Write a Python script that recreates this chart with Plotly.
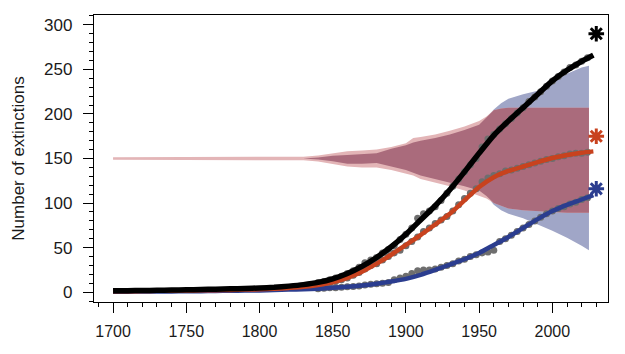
import numpy as np
import plotly.graph_objects as go

# ---- fitted curves ----
curve_years = [1700, 1710, 1720, 1730, 1740, 1750, 1760, 1770, 1780, 1790, 1800, 1810, 1820,
               1830, 1840, 1850, 1860, 1870, 1880, 1890, 1900, 1910, 1920, 1930, 1940, 1950,
               1960, 1970, 1980, 1990, 2000, 2010, 2020, 2028]
total_fit = [1.5, 1.7, 1.9, 2.1, 2.4, 2.7, 3.0, 3.4, 3.8, 4.2, 4.7, 5.5, 6.8,
             8.5, 11, 15, 21, 29, 39, 51, 65, 81, 97, 115, 135, 156,
             176, 192, 207, 222, 237, 249, 259, 266]
red_fit = [1.0, 1.1, 1.3, 1.5, 1.7, 1.9, 2.1, 2.3, 2.6, 2.9, 3.2, 3.8, 4.8,
           6, 8, 11, 16, 23, 32, 42, 53, 64, 76, 88, 103, 118,
           129, 136, 141, 146, 150.5, 154, 156.5, 158]
blue_fit = [0.5, 0.6, 0.7, 0.8, 0.9, 1.0, 1.2, 1.4, 1.6, 1.8, 2.0, 2.4, 2.9,
            3.4, 4, 5, 6, 7.5, 9.5, 12, 15, 19.5, 25, 31, 37, 44,
            53, 62, 72, 82, 91, 98, 104, 109]

# ---- observed points ----
obs_years = list(range(1840, 2025, 4))
total_obs = [11, 12, 14, 16, 18, 21, 24, 28, 33, 36, 39, 44, 48, 52, 59, 65, 72, 83, 88, 91,
             96, 103, 111, 119, 127, 135, 143, 150, 163, 172, 177, 183, 189, 195, 201, 207,
             214, 219, 225, 231, 237, 242, 247, 252, 255, 259, 263]
red_obs = [8, 9, 10, 12, 14, 16, 19, 22, 26, 30, 32, 36, 40, 44, 47, 52, 57, 62, 68, 72,
           77, 81, 85, 91, 98, 105, 111, 116, 124, 128, 131, 133, 136, 137, 139, 141,
           143, 145, 147, 149, 150, 152, 153, 155, 156, 156, 157]
blue_obs = [4, 4.5, 5, 5, 5.5, 6, 6.5, 7, 8, 9, 9.5, 10, 11, 14, 16, 18, 21, 24, 25, 25,
            26, 28, 30, 32, 35, 37, 40, 42, 44, 45, 47, 57, 60, 64, 68, 72,
            76, 80, 84, 88, 91, 94, 96, 99, 101, 104, 106]

# ---- uncertainty bands ----
band_years = [1700, 1830, 1840, 1850, 1860, 1870, 1880, 1890, 1900, 1905, 1910, 1920, 1930,
              1940, 1950, 1955, 1960, 1965, 1970, 1980, 1990, 2000, 2010, 2020, 2025]
red_lo = [148.5, 148, 146.5, 144, 141, 140, 140, 137, 133, 131, 127, 123, 119,
          114, 108, 105, 100, 97, 94, 92, 91, 90, 89, 89, 89]
red_hi = [151.5, 152, 153.5, 155.5, 158, 159, 160, 163, 167, 173, 174, 177, 181,
          186, 192, 197, 204, 206, 207, 207, 207, 207, 207, 207, 207]
blue_lo = [150, 150, 149, 147, 144, 144, 145, 141, 137, 134, 131, 127, 123,
           119, 114, 108, 98, 92, 88, 83, 76, 69, 61, 52, 47]
blue_hi = [150, 150, 151, 153, 154, 155, 156, 161, 165, 168, 170, 173, 177,
           182, 188, 196, 205, 212, 217, 222, 226, 235, 245, 252, 254]

# ---- end markers ----
marker_x = [2030, 2030, 2030]
marker_y = [290, 175, 116]

BLACK = "#000000"
RED = "#c8421e"
BLUE = "#2b3d8f"
GREY = "#6e6e6e"
PINK = "#e3b5b7"
MAUVE = "#aa6b7c"
BLUEGREY = "#a0a6c7"

fig = go.Figure()


def band(lo, hi, color):
    xs = list(band_years) + list(band_years)[::-1]
    ys = list(hi) + list(lo)[::-1]
    fig.add_trace(go.Scatter(x=xs, y=ys, fill="toself", fillcolor=color, mode="lines",
                             line=dict(width=0, color=color), hoverinfo="skip", showlegend=False))


band(blue_lo, blue_hi, BLUEGREY)
band(red_lo, red_hi, PINK)
inter_lo = np.maximum(red_lo, blue_lo)
inter_hi = np.minimum(red_hi, blue_hi)
band(inter_lo, inter_hi, MAUVE)

for ys in (blue_obs, red_obs, total_obs):
    fig.add_trace(go.Scatter(x=obs_years, y=ys, mode="markers",
                             marker=dict(size=7, color=GREY), showlegend=False))

for ys, col, w in ((blue_fit, BLUE, 4.5), (red_fit, RED, 4.5), (total_fit, BLACK, 5.5)):
    fig.add_trace(go.Scatter(x=curve_years, y=ys, mode="lines",
                             line=dict(color=col, width=w, shape="spline", smoothing=0.6),
                             showlegend=False))

fig.add_trace(go.Scatter(x=marker_x, y=marker_y, mode="markers",
                         marker=dict(symbol="asterisk-open", size=13, color=[BLACK, RED, BLUE],
                                     line=dict(width=3, color=[BLACK, RED, BLUE])),
                         showlegend=False))

font = dict(family="Liberation Sans, Arial, sans-serif", size=17, color="#1a1a1a")
fig.update_layout(
    width=625, height=354,
    margin=dict(l=94, r=17, t=15, b=52),
    paper_bgcolor="white", plot_bgcolor="white",
    font=font,
    xaxis=dict(range=[1687, 2038], showgrid=False, zeroline=False,
               showline=True, mirror=True, linecolor="black", linewidth=1.3,
               ticks="outside", ticklen=10, tickwidth=1.3, tickcolor="black",
               tick0=1700, dtick=50, ticklabelstandoff=5, tickfont=dict(size=16),
               minor=dict(ticks="outside", dtick=10, ticklen=4, tickcolor="black", tickwidth=1)),
    yaxis=dict(range=[-11, 311], showgrid=False, zeroline=False,
               showline=True, mirror=True, linecolor="black", linewidth=1.3,
               ticks="outside", ticklen=10, tickwidth=1.3, tickcolor="black",
               tick0=0, dtick=50, ticklabelstandoff=7, tickfont=dict(size=17),
               minor=dict(ticks="outside", dtick=10, ticklen=4, tickcolor="black", tickwidth=1),
               title=dict(text="Number of extinctions", font=dict(size=17, color="#1a1a1a"), standoff=15)),
)

fig.write_html("out.html")
